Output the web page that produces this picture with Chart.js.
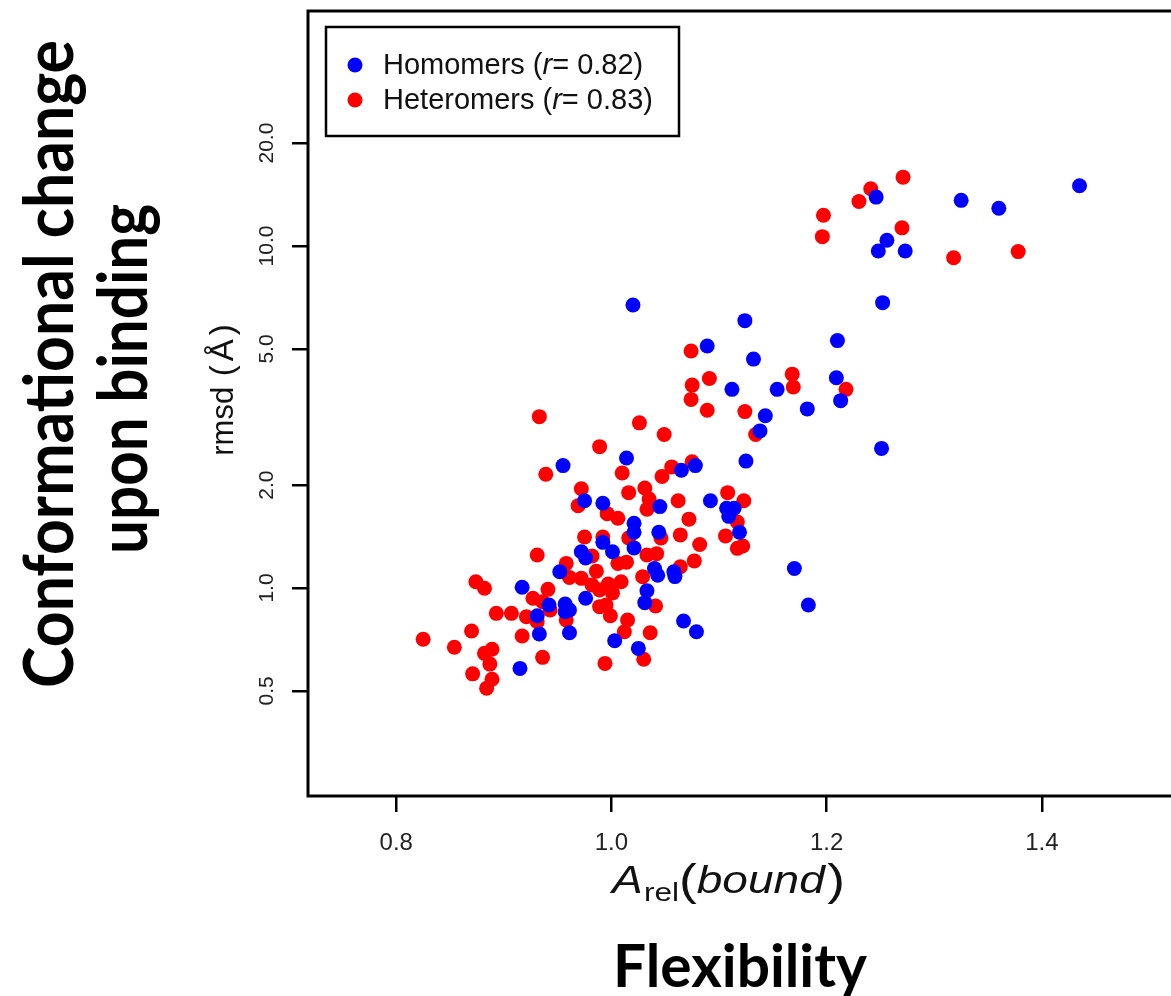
<!DOCTYPE html>
<html>
<head>
<meta charset="utf-8">
<script src="https://cdn.jsdelivr.net/npm/chart.js@4.4.0/dist/chart.umd.min.js"></script>
<style>
  html, body { margin: 0; padding: 0; background: #fff; overflow: hidden; }
  #wrap { width: 1180px; height: 996px; }
</style>
</head>
<body>
<div id="wrap"><canvas id="flexChart" width="1180" height="996"></canvas></div>
<script>
// relative accessible area (bound) vs. rmsd on binding
const homomerX = [1.435, 1.360, 1.325, 1.246, 1.256, 1.248, 1.273, 1.252, 1.210, 1.209,
                  1.213, 1.182, 1.251, 1.170, 1.183, 1.020, 1.124, 1.089, 1.132, 1.112,
                  1.154, 1.143, 1.138, 1.125, 0.955, 1.014, 1.065, 1.078, 0.975, 0.992,
                  1.045, 1.092, 1.107, 1.114, 1.109, 1.119, 1.021, 1.021, 1.044, 0.992,
                  1.001, 1.021, 0.972, 0.976, 0.952, 1.040, 1.043, 1.058, 1.059, 0.917,
                  1.033, 0.976, 0.942, 0.931, 0.957, 0.961, 0.957, 1.031, 1.067, 1.079,
                  0.933, 0.961, 1.003, 1.025, 0.915];
const homomerY = [15.0, 12.9, 13.6, 13.9, 10.4, 9.67, 9.67, 6.83, 5.29, 4.12,
                  3.53, 3.34, 2.56, 1.14, 0.892, 6.72, 6.05, 5.10, 4.67, 3.81,
                  3.81, 3.19, 2.88, 2.35, 2.28, 2.40, 2.21, 2.28, 1.80, 1.77,
                  1.73, 1.80, 1.71, 1.71, 1.62, 1.455, 1.546, 1.455, 1.455, 1.36,
                  1.277, 1.31, 1.277, 1.224, 1.116, 1.14, 1.09, 1.116, 1.08, 1.005,
                  0.982, 0.933, 0.892, 0.830, 0.898, 0.862, 0.852, 0.906, 0.801, 0.745,
                  0.734, 0.740, 0.701, 0.666, 0.582];

const heteromerX = [1.271, 1.241, 1.230, 1.197, 1.196, 1.270, 1.318, 1.378, 1.218, 1.168,
                    1.169, 1.074, 1.091, 1.075, 1.074, 1.089, 1.124, 1.134, 0.933, 1.026,
                    1.049, 0.989, 0.939, 1.010, 1.047, 1.056, 1.075, 0.972, 0.969, 1.016,
                    1.031, 1.035, 1.033, 1.062, 1.108, 1.123, 1.072, 0.996, 1.006, 1.117,
                    1.106, 1.064, 1.082, 1.122, 1.117, 0.975, 0.992, 1.016, 1.046, 0.931,
                    0.982, 1.006, 1.014, 1.033, 1.042, 1.077, 1.064, 0.958, 0.961, 0.972,
                    0.986, 0.982, 0.989, 0.997, 1.009, 1.029, 0.941, 0.927, 0.874, 0.882,
                    0.936, 0.893, 0.907, 0.921, 0.931, 0.943, 0.958, 0.989, 0.995, 0.999,
                    1.015, 1.012, 1.041, 1.036, 0.870, 0.917, 0.825, 0.854, 0.882, 0.889,
                    0.887, 0.936, 0.994, 1.030, 0.871, 0.889, 0.884, 1.001];
const heteromerY = [15.9, 14.7, 13.5, 12.3, 10.65, 11.3, 9.24, 9.63, 3.81, 4.22,
                    3.87, 4.93, 4.10, 3.92, 3.56, 3.31, 3.28, 2.81, 3.17, 3.04,
                    2.81, 2.59, 2.15, 2.17, 2.12, 2.26, 2.34, 1.95, 1.74, 1.90,
                    1.96, 1.82, 1.70, 1.80, 1.90, 1.80, 1.59, 1.65, 1.60, 1.56,
                    1.42, 1.43, 1.34, 1.327, 1.306, 1.41, 1.41, 1.40, 1.40, 1.249,
                    1.24, 1.18, 1.19, 1.249, 1.26, 1.20, 1.154, 1.18, 1.073, 1.067,
                    1.12, 1.02, 0.987, 1.027, 1.043, 1.079, 0.991, 0.933, 1.043, 0.998,
                    0.912, 0.843, 0.843, 0.824, 0.797, 0.862, 0.806, 0.882, 0.892, 0.830,
                    0.806, 0.745, 0.886, 0.740, 0.749, 0.724, 0.708, 0.671, 0.644, 0.662,
                    0.599, 0.627, 0.602, 0.619, 0.561, 0.541, 0.509, 0.967];

const xTicks = [0.8, 1.0, 1.2, 1.4];
const yTicks = [0.5, 1, 2, 5, 10, 20];
const seriesNames = ['Homomers', 'Heteromers'];
const seriesR = ['0.82', '0.83'];
const seriesColors = ['#0000ff', '#ff0000'];

const toPoints = (xs, ys) => xs.map((x, i) => ({ x: x, y: ys[i] }));

// writes a run of differently styled pieces one after another
function drawRuns(ctx, runs, x, y) {
    runs.forEach(r => {
        ctx.font = r.font;
        ctx.fillText(r.text, x, y + (r.dy || 0));
        x += ctx.measureText(r.text).width + (r.gap || 0);
    });
}
function runsWidth(ctx, runs) {
    let w = 0;
    runs.forEach(r => { ctx.font = r.font; w += ctx.measureText(r.text).width + (r.gap || 0); });
    return w;
}

// stretches a bold caption to a given length
function fitText(ctx, text, font, cx, cy, width, angle) {
    ctx.save();
    ctx.font = font;
    const w = ctx.measureText(text).width;
    ctx.translate(cx, cy);
    ctx.rotate(angle);
    ctx.scale(width / w, 1);
    ctx.textAlign = 'center';
    ctx.textBaseline = 'middle';
    ctx.fillText(text, 0, 0);
    ctx.restore();
}

const decorations = {
    id: 'decorations',
    beforeDraw(chart) {
        const ctx = chart.ctx;
        ctx.save();
        ctx.fillStyle = '#fff';
        ctx.fillRect(0, 0, chart.width, chart.height);
        ctx.restore();
    },
    afterDraw(chart) {
        const { ctx, chartArea: a } = chart;
        ctx.save();

        // plot frame
        ctx.strokeStyle = '#000';
        ctx.lineWidth = 3;
        ctx.strokeRect(a.left, a.top, a.right - a.left, a.bottom - a.top);

        // legend box
        ctx.lineWidth = 2.5;
        ctx.strokeRect(326, 27, 353, 109);
        ctx.textBaseline = 'middle';
        ctx.textAlign = 'left';
        seriesNames.forEach((name, i) => {
            const y = 65 + i * 35;
            ctx.fillStyle = seriesColors[i];
            ctx.beginPath();
            ctx.arc(355, y, 7.5, 0, Math.PI * 2);
            ctx.fill();
            ctx.fillStyle = '#111';
            drawRuns(ctx, [
                { text: name + ' (', font: '29px "Liberation Sans"' },
                { text: 'r', font: 'italic 29px "Liberation Sans"' },
                { text: '= ' + seriesR[i] + ')', font: '29px "Liberation Sans"' }
            ], 383, y + 1);
        });

        // x axis title: A_rel(bound)
        ctx.fillStyle = '#111';
        ctx.textBaseline = 'alphabetic';
        const xRuns = [
            { text: 'A', font: 'italic 38px "Liberation Sans"', gap: 1 },
            { text: 'rel', font: '26px "Liberation Sans"', dy: 8 },
            { text: '(', font: '44px "Liberation Sans"', dy: 2 },
            { text: 'bound', font: 'italic 38px "Liberation Sans"', gap: 2 },
            { text: ')', font: '44px "Liberation Sans"', dy: 2 }
        ];
        ctx.save();
        const xw = runsWidth(ctx, xRuns);
        ctx.translate(612, 893);
        ctx.scale(233 / xw, 1);
        drawRuns(ctx, xRuns, 0, 0);
        ctx.restore();

        // y axis title: rmsd (Å)
        ctx.save();
        ctx.translate(233, 390);
        ctx.rotate(-Math.PI / 2);
        const yRuns = [
            { text: 'rmsd ', font: '31px "Liberation Sans"', gap: 2 },
            { text: '(', font: '33px "Liberation Sans"', gap: 4 },
            { text: 'Å', font: '33px "Liberation Sans"', gap: 4 },
            { text: ')', font: '33px "Liberation Sans"' }
        ];
        drawRuns(ctx, yRuns, -runsWidth(ctx, yRuns) / 2, 0);
        ctx.restore();

        // captions outside the plot
        ctx.fillStyle = '#000';
        fitText(ctx, 'Conformational change', 'bold 68px Lato', 51, 364, 648, -Math.PI / 2);
        fitText(ctx, 'upon binding', 'bold 68px Lato', 125, 379, 350, -Math.PI / 2);
        fitText(ctx, 'Flexibility', 'bold 60px Lato', 740, 968, 254, 0);

        ctx.restore();
    }
};

const canvas = document.getElementById('flexChart');
new Chart(canvas, {
    type: 'scatter',
    data: {
        datasets: [
            {
                label: seriesNames[0],
                data: toPoints(homomerX, homomerY),
                backgroundColor: seriesColors[0],
                borderWidth: 0,
                pointRadius: 7.5
            },
            {
                label: seriesNames[1],
                data: toPoints(heteromerX, heteromerY),
                backgroundColor: seriesColors[1],
                borderWidth: 0,
                pointRadius: 7.5
            }
        ]
    },
    options: {
        responsive: false,
        animation: false,
        events: [],
        layout: { padding: { left: 0, top: 11, right: 5, bottom: 0 } },
        plugins: {
            legend: { display: false },
            tooltip: { enabled: false }
        },
        scales: {
            x: {
                type: 'linear',
                min: 0.718,
                max: 1.5214,
                afterBuildTicks: scale => { scale.ticks = xTicks.map(v => ({ value: v })); },
                afterFit: scale => {
                    scale.height = 200;
                    scale.paddingLeft = 0;
                    scale.paddingRight = 0;
                },
                border: { display: false },
                grid: { drawOnChartArea: false, drawTicks: true, tickLength: 16, color: '#000', lineWidth: 2.5 },
                ticks: {
                    autoSkip: false,
                    color: '#222',
                    padding: 17,
                    font: { family: '"Liberation Sans"', size: 24 },
                    callback: v => Number(v).toFixed(1)
                }
            },
            y: {
                type: 'logarithmic',
                min: 0.2465,
                max: 48.66,
                afterBuildTicks: scale => { scale.ticks = yTicks.map(v => ({ value: v })); },
                afterFit: scale => {
                    scale.width = 308;
                    scale.paddingTop = 0;
                    scale.paddingBottom = 0;
                },
                border: { display: false },
                grid: { drawOnChartArea: false, drawTicks: true, tickLength: 16, color: '#000', lineWidth: 2.5 },
                ticks: {
                    autoSkip: false,
                    minRotation: 90,
                    maxRotation: 90,
                    crossAlign: 'center',
                    color: '#222',
                    padding: 4,
                    font: { family: '"Liberation Sans"', size: 21 },
                    callback: v => Number(v).toFixed(1)
                }
            }
        }
    },
    plugins: [decorations]
});
</script>
</body>
</html>
